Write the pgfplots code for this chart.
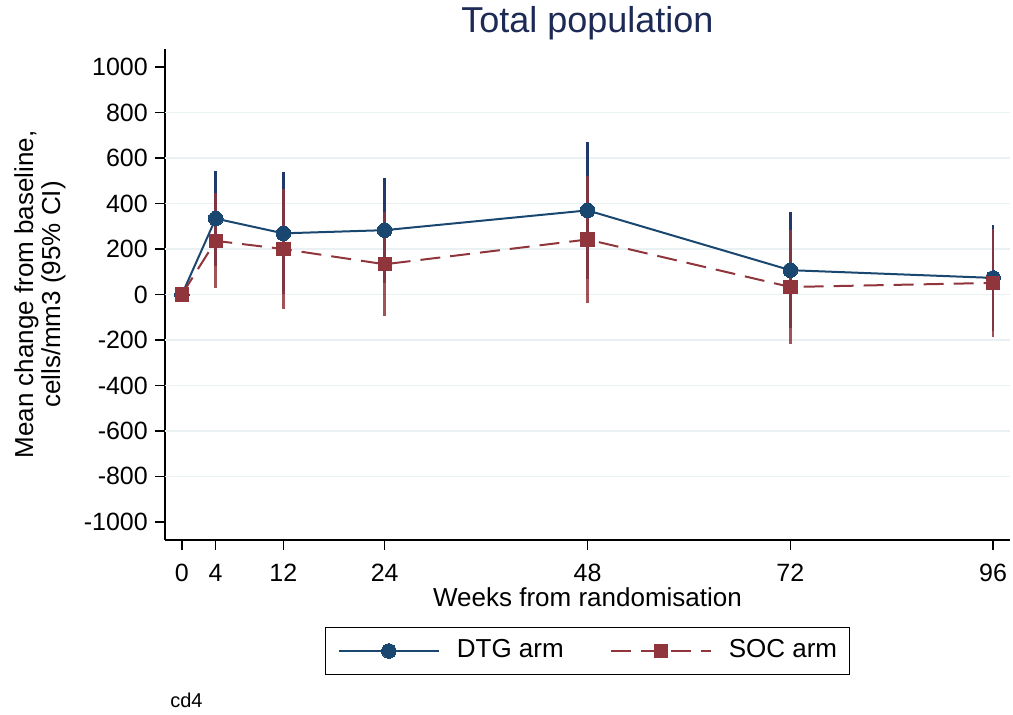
\documentclass[border=0pt]{standalone}
\usepackage{fontspec}
\setmainfont{Liberation Sans}
\usepackage{pgfplots}
\pgfplotsset{compat=1.18}
\definecolor{dtg}{RGB}{26,71,111}
\definecolor{dtgbar}{RGB}{31,58,106}
\definecolor{soc}{RGB}{144,53,59}
\definecolor{ttl}{RGB}{28,42,85}
\definecolor{grd}{RGB}{234,241,243}
\pgfplotstableread{
week mean err
0 0 0
4 334 209
12 269 269
24 283 231
48 370 302
72 107 256
96 73 232
}\dtgdata
\pgfplotstableread{
week mean err
0 0 0
4 236 209
12 200 263
24 133 229
48 242 280
72 33 252
96 51 236
}\socdata
\begin{document}
\begin{tikzpicture}
\begin{axis}[
  at={(165pt,175pt)}, anchor=south west,
  scale only axis, width=845pt, height=491pt,
  xmin=-2, xmax=98, ymin=-1080, ymax=1080,
  axis x line*=bottom, axis y line*=left,
  axis line style={line width=1.4pt, black, -},
  tick style={line width=1.4pt, black},
  tick align=outside, major tick length=10pt,
  xtick={0,4,12,24,48,72,96},
  ytick={-1000,-800,...,1000},
  extra y ticks={-800,-600,...,800},
  extra y tick labels={},
  extra y tick style={grid=major, major tick length=0pt, grid style={grd, line width=1.6pt}},
  /pgf/number format/assume math mode=true,
  /pgf/number format/set thousands separator={},
  yticklabel style={font=\fontsize{25}{25}\selectfont, inner sep=0pt, xshift=-7pt},
  xticklabel style={font=\fontsize{25}{25}\selectfont, inner sep=0pt, yshift=-14pt},
  xlabel={Weeks from randomisation},
  xlabel style={font=\fontsize{26}{26}\selectfont, at={(axis description cs:0.5,-0.116)}, anchor=center},
  ylabel={Mean change from baseline,\\cells/mm3 (95\% CI)},
  ylabel style={font=\fontsize{26}{27}\selectfont, align=center, at={(axis description cs:-0.1480,0.5)}, anchor=center},
  title={Total population},
  title style={font=\fontsize{36}{36}\selectfont, text=ttl, at={(axis description cs:0.5,1.040)}, anchor=center},
  legend columns=2,
  legend style={at={(axis description cs:0.5,-0.2261)}, anchor=center,
    draw=black, line width=1.2pt, font=\fontsize{26}{26}\selectfont,
    inner xsep=12pt, inner ysep=11pt,
    nodes={inner sep=0pt, text height=19pt, text depth=6pt},
    /tikz/column 1/.style={column sep=17pt},
    /tikz/column 2/.style={column sep=46pt},
    /tikz/column 3/.style={column sep=17pt}},
  legend image code/.code={\draw[mark repeat=2,mark phase=2,#1] plot coordinates {(0pt,0pt) (50pt,0pt) (100pt,0pt)};},
  clip=false,
]
\addplot[forget plot, draw=none, mark=none,
  error bars/.cd, y dir=both, y explicit, error mark=none,
  error bar style={draw=dtgbar, line width=2.6pt, solid}]
  table[x=week, y=mean, y error=err] {\dtgdata};
\addplot[forget plot, draw=none, mark=none,
  error bars/.cd, y dir=both, y explicit, error mark=none,
  error bar style={draw=soc, draw opacity=0.85, line width=2.6pt, solid}]
  table[x=week, y=mean, y error=err] {\socdata};
\addplot[dtg, line width=2pt, mark=*, mark size=7.3pt, mark options={solid, fill=dtg, draw=dtg, line width=0pt}]
  table[x=week, y=mean] {\dtgdata};
\addlegendentry{DTG arm}
\addplot[soc, line width=2pt, dash pattern=on 20pt off 10pt, mark=square*, mark size=6.7pt, mark options={solid, fill=soc, draw=soc, line width=0pt}]
  table[x=week, y=mean] {\socdata};
\addlegendentry{SOC arm}
\node[anchor=west, font=\fontsize{20}{20}\selectfont, inner sep=0pt] at (axis description cs:0.006,-0.326) {cd4};
\end{axis}
\pgfresetboundingbox
\path (0,0) rectangle (1013pt,715pt);
\end{tikzpicture}
\end{document}
